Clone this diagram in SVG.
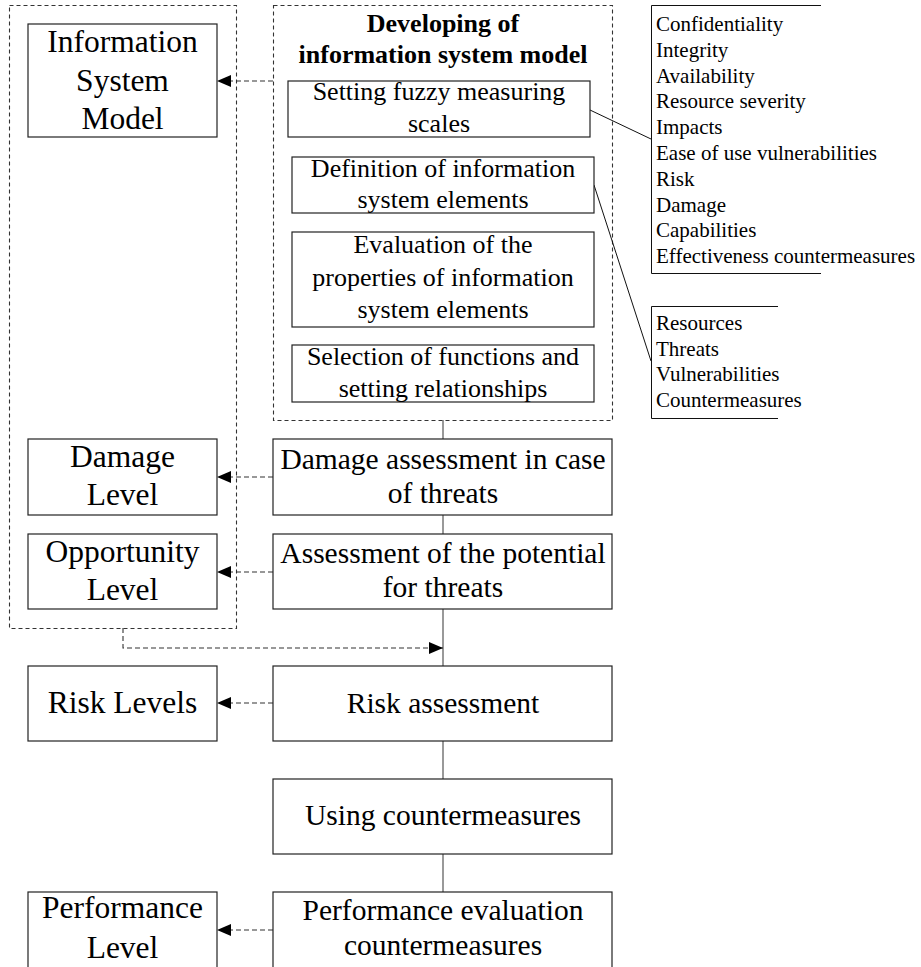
<svg xmlns="http://www.w3.org/2000/svg" width="921" height="967" viewBox="0 0 921 967">
<style>
.box{fill:#fff;stroke:#222;stroke-width:1.2}
.cont{fill:none;stroke:#333;stroke-width:1.1;stroke-dasharray:4,3}
.dash{fill:none;stroke:#333;stroke-width:1.1;stroke-dasharray:5,3}
.solid{fill:none;stroke:#555;stroke-width:1.2}
.thin{fill:none;stroke:#111;stroke-width:1}
text{font-family:"Liberation Serif","Times New Roman",serif;fill:#000}
.big{font-size:31.5px;text-anchor:middle}
.mid{font-size:29.5px;text-anchor:middle}
.sm{font-size:26px;text-anchor:middle}
.title{font-size:26px;font-weight:bold;text-anchor:middle}
.list{font-size:21px}
</style>
<defs>
<marker id="ah" markerWidth="14" markerHeight="12" refX="14" refY="6" orient="auto" markerUnits="userSpaceOnUse">
<path d="M0,0 L14,6 L0,12 Z" fill="#000"/>
</marker>
</defs>

<g id="containers">
<rect class="cont" x="9.5" y="5.5" width="227" height="623"/>
<rect class="cont" x="273.5" y="5.5" width="339" height="415"/>
</g>

<g id="connectors">
<line class="solid" x1="443" y1="420" x2="443" y2="439"/>
<line class="solid" x1="443" y1="515" x2="443" y2="534"/>
<line class="solid" x1="443" y1="609" x2="443" y2="666"/>
<line class="solid" x1="443" y1="741" x2="443" y2="779"/>
<line class="solid" x1="443" y1="854" x2="443" y2="892"/>
<line class="dash" x1="273" y1="81" x2="217" y2="81" marker-end="url(#ah)"/>
<line class="dash" x1="273" y1="477" x2="217" y2="477" marker-end="url(#ah)"/>
<line class="dash" x1="273" y1="572" x2="217" y2="572" marker-end="url(#ah)"/>
<line class="dash" x1="273" y1="703" x2="217" y2="703" marker-end="url(#ah)"/>
<line class="dash" x1="273" y1="930" x2="217" y2="930" marker-end="url(#ah)"/>
<polyline class="dash" points="123,628 123,648 443,648" marker-end="url(#ah)"/>
<line class="thin" x1="590" y1="110" x2="651" y2="139"/>
<line class="thin" x1="594" y1="185" x2="651" y2="361"/>
</g>

<g id="title">
<text class="title" x="443" y="32">Developing of</text>
<text class="title" x="443" y="63">information system model</text>
</g>

<g id="info-system-model">
<rect class="box" x="28" y="24" width="189" height="113"/>
<text class="big" x="122.5" y="52">Information</text>
<text class="big" x="122.5" y="91">System</text>
<text class="big" x="122.5" y="129">Model</text>
</g>

<g id="setting-scales">
<rect class="box" x="288" y="81" width="302" height="56"/>
<text class="sm" x="439" y="100">Setting fuzzy measuring</text>
<text class="sm" x="439" y="132">scales</text>
</g>

<g id="definition">
<rect class="box" x="292" y="157" width="302" height="56"/>
<text class="sm" x="443" y="177">Definition of information</text>
<text class="sm" x="443" y="208">system elements</text>
</g>

<g id="evaluation">
<rect class="box" x="292" y="232" width="302" height="95"/>
<text class="sm" x="443" y="253">Evaluation of the</text>
<text class="sm" x="443" y="286">properties of information</text>
<text class="sm" x="443" y="318">system elements</text>
</g>

<g id="selection">
<rect class="box" x="292" y="345" width="302" height="57"/>
<text class="sm" x="443" y="365">Selection of functions and</text>
<text class="sm" x="443" y="397">setting relationships</text>
</g>

<g id="scales-list">
<polyline class="thin" points="821,5.5 651.5,5.5 651.5,273.5 821,273.5"/>
<text class="list" x="656" y="31">Confidentiality</text>
<text class="list" x="656" y="57">Integrity</text>
<text class="list" x="656" y="83">Availability</text>
<text class="list" x="656" y="108">Resource severity</text>
<text class="list" x="656" y="134">Impacts</text>
<text class="list" x="656" y="160">Ease of use vulnerabilities</text>
<text class="list" x="656" y="186">Risk</text>
<text class="list" x="656" y="212">Damage</text>
<text class="list" x="656" y="237">Capabilities</text>
<text class="list" x="656" y="263">Effectiveness countermeasures</text>
</g>

<g id="elements-list">
<polyline class="thin" points="778,306.5 651.5,306.5 651.5,418.5 778,418.5"/>
<text class="list" x="656" y="330">Resources</text>
<text class="list" x="656" y="356">Threats</text>
<text class="list" x="656" y="381">Vulnerabilities</text>
<text class="list" x="656" y="407">Countermeasures</text>
</g>

<g id="damage-level">
<rect class="box" x="28" y="439" width="189" height="76"/>
<text class="big" x="122.5" y="467">Damage</text>
<text class="big" x="122.5" y="505">Level</text>
</g>

<g id="damage-assessment">
<rect class="box" x="273" y="439" width="339" height="76"/>
<text class="mid" x="443" y="469">Damage assessment in case</text>
<text class="mid" x="443" y="503">of threats</text>
</g>

<g id="opportunity-level">
<rect class="box" x="28" y="534" width="189" height="75"/>
<text class="big" x="122.5" y="562">Opportunity</text>
<text class="big" x="122.5" y="600">Level</text>
</g>

<g id="threat-potential">
<rect class="box" x="273" y="534" width="339" height="75"/>
<text class="mid" x="443" y="563">Assessment of the potential</text>
<text class="mid" x="443" y="597">for threats</text>
</g>

<g id="risk-levels">
<rect class="box" x="28" y="666" width="189" height="75"/>
<text class="big" x="122.5" y="713">Risk Levels</text>
</g>

<g id="risk-assessment">
<rect class="box" x="273" y="666" width="339" height="75"/>
<text class="mid" x="443" y="713">Risk assessment</text>
</g>

<g id="using-countermeasures">
<rect class="box" x="273" y="779" width="339" height="75"/>
<text class="mid" x="443" y="825">Using countermeasures</text>
</g>

<g id="performance-level">
<rect class="box" x="28" y="892" width="189" height="90"/>
<text class="big" x="122.5" y="918">Performance</text>
<text class="big" x="122.5" y="958">Level</text>
</g>

<g id="performance-evaluation">
<rect class="box" x="273" y="892" width="339" height="90"/>
<text class="mid" x="443" y="920">Performance evaluation</text>
<text class="mid" x="443" y="955">countermeasures</text>
</g>
</svg>
